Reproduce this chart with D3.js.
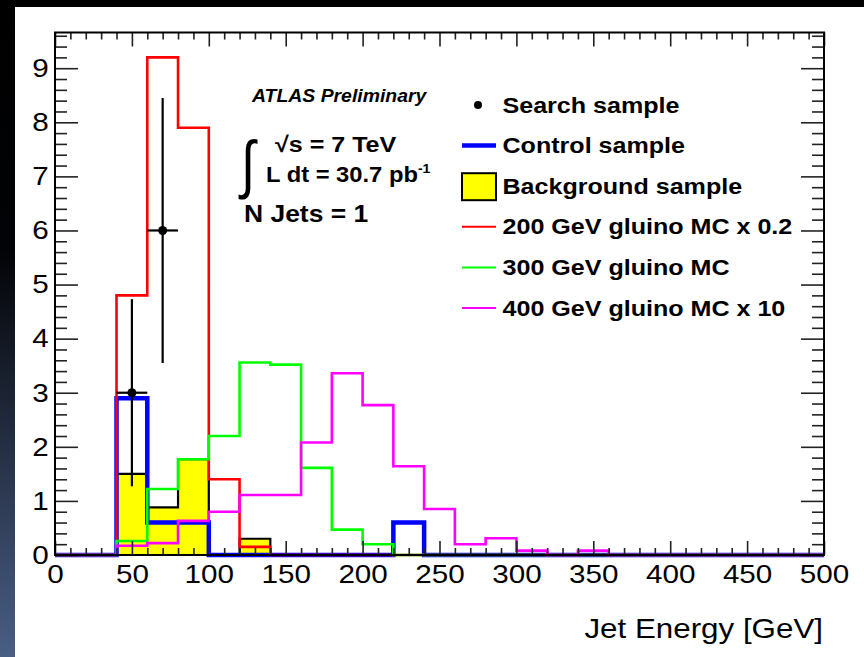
<!DOCTYPE html>
<html>
<head>
<meta charset="utf-8">
<script src="https://cdn.jsdelivr.net/npm/d3@7"></script>
<style>
  html, body { margin: 0; padding: 0; background: #fff; }
  svg { display: block; }
  text { font-family: "Liberation Sans", Arial, Helvetica, sans-serif; }
</style>
</head>
<body>
<svg id="chart" width="864" height="657"></svg>
<script>
// Jet energy histograms, 20 GeV bins from 0 to 500 GeV
const binWidth = 20;
const binLow = d3.range(0, 500, binWidth);

const controlSample    = [0, 0, 2.9, 0.6, 0.6, 0, 0, 0, 0, 0, 0, 0.6, 0, 0, 0, 0, 0, 0, 0, 0, 0, 0, 0, 0, 0];
const backgroundSample = [0, 0, 1.5, 0.88, 1.77, 0, 0.3, 0, 0, 0, 0, 0, 0, 0, 0, 0, 0, 0, 0, 0, 0, 0, 0, 0, 0];
const gluino200 = [0, 0, 4.8, 9.2, 7.9, 1.4, 0.15, 0, 0, 0, 0, 0, 0, 0, 0, 0, 0, 0, 0, 0, 0, 0, 0, 0, 0];
const gluino300 = [0, 0, 0.26, 1.22, 1.77, 2.2, 3.56, 3.52, 1.61, 0.47, 0.2, 0, 0, 0, 0, 0, 0, 0, 0, 0, 0, 0, 0, 0, 0];
const gluino400 = [0, 0, 0.17, 0.22, 0.63, 0.8, 1.11, 1.11, 2.08, 3.36, 2.77, 1.64, 0.85, 0.2, 0.31, 0.08, 0, 0.08, 0, 0, 0, 0, 0, 0, 0];

// Search sample: bin centres, counts and Poisson errors
const searchX = [50, 70];
const searchCounts = [3, 6];
const searchErrors = [1.73, 2.45];

const xMajorTicks = [0, 50, 100, 150, 200, 250, 300, 350, 400, 450, 500];
const yMajorTicks = [0, 1, 2, 3, 4, 5, 6, 7, 8, 9];

const legendItems = [
  { label: "Search sample", kind: "point" },
  { label: "Control sample", kind: "line", color: "#0000ff", width: 4.5 },
  { label: "Background sample", kind: "box" },
  { label: "200 GeV gluino MC x 0.2", kind: "line", color: "#ff0000", width: 2 },
  { label: "300 GeV gluino MC", kind: "line", color: "#00ff00", width: 2 },
  { label: "400 GeV gluino MC x 10", kind: "line", color: "#ff00ff", width: 2 }
];

const svg = d3.select("#chart");
const W = 864, H = 657;
const plot = { left: 55, right: 824, top: 32.5, bottom: 555 };
const SX = 1.14; // horizontal stretch of all lettering

// page background: white card, dark top band, gradient strip on the left
const defs = svg.append("defs");
const grad = defs.append("linearGradient").attr("id", "sideGrad")
  .attr("x1", 0).attr("y1", 0).attr("x2", 0).attr("y2", 1);
grad.append("stop").attr("offset", "0%").attr("stop-color", "#000000");
grad.append("stop").attr("offset", "38%").attr("stop-color", "#020306");
grad.append("stop").attr("offset", "100%").attr("stop-color", "#4a5e84");
svg.append("rect").attr("width", W).attr("height", H).attr("fill", "#ffffff");
svg.append("rect").attr("x", 0).attr("y", 0).attr("width", 15).attr("height", H).attr("fill", "url(#sideGrad)");
svg.append("rect").attr("x", 0).attr("y", 0).attr("width", W).attr("height", 7).attr("fill", "#000000");

const x = d3.scaleLinear().domain([0, 500]).range([plot.left, plot.right]);
const y = d3.scaleLinear().domain([0, 9.66]).range([plot.bottom, plot.top]);

// step outline of a histogram
function stepPoints(vals) {
  const pts = [];
  vals.forEach((v, i) => {
    pts.push([binLow[i], v]);
    pts.push([binLow[i] + binWidth, v]);
  });
  return pts;
}
const stepLine = d3.line().x(d => x(d[0])).y(d => y(d[1]));
const stepArea = d3.area().x(d => x(d[0])).y0(y(0)).y1(d => y(d[1]));

const g = svg.append("g");

// background sample: yellow fill with black outline
g.append("path").datum(stepPoints(backgroundSample))
  .attr("d", stepArea).attr("fill", "#ffff00").attr("stroke", "none");
g.append("path").datum(stepPoints(backgroundSample))
  .attr("d", stepLine).attr("fill", "none").attr("stroke", "#000").attr("stroke-width", 2.2);

function drawHist(vals, color, width) {
  g.append("path").datum(stepPoints(vals))
    .attr("d", stepLine).attr("fill", "none")
    .attr("stroke", color).attr("stroke-width", width)
    .attr("stroke-linejoin", "miter");
}
drawHist(controlSample, "#0000ff", 4.5);
drawHist(gluino200, "#ff0000", 2.6);
drawHist(gluino300, "#00ff00", 2.6);
drawHist(gluino400, "#ff00ff", 2.6);

// axes: major and minor ticks pointing into the frame
const tickColor = "#222";
function styleAxis(sel) {
  sel.select(".domain").remove();
  sel.selectAll(".tick line").attr("stroke", tickColor).attr("stroke-width", 1.6);
  sel.selectAll(".tick text").attr("fill", "#000").attr("font-size", 26)
    .attr("font-family", "'Liberation Sans', Arial, sans-serif")
    .attr("transform", `scale(${SX},1)`);
}
const xMinor = d3.range(0, 501, 10).filter(v => v % 50 !== 0);
const yMinor = d3.range(0, 9.61, 0.2).map(v => +v.toFixed(1)).filter(v => Math.abs(v - Math.round(v)) > 1e-6);

svg.append("g").attr("transform", `translate(0,${plot.bottom})`)
  .call(d3.axisBottom(x).tickValues(xMajorTicks).tickSizeInner(-14).tickSizeOuter(0).tickPadding(10).tickFormat(d3.format("d")))
  .call(styleAxis);
svg.append("g").attr("transform", `translate(0,${plot.bottom})`)
  .call(d3.axisBottom(x).tickValues(xMinor).tickSizeInner(-7).tickSizeOuter(0).tickFormat(""))
  .call(styleAxis);
svg.append("g").attr("transform", `translate(0,${plot.top})`)
  .call(d3.axisTop(x).tickValues(xMajorTicks).tickSizeInner(-14).tickSizeOuter(0).tickFormat(""))
  .call(styleAxis);
svg.append("g").attr("transform", `translate(0,${plot.top})`)
  .call(d3.axisTop(x).tickValues(xMinor).tickSizeInner(-7).tickSizeOuter(0).tickFormat(""))
  .call(styleAxis);

svg.append("g").attr("transform", `translate(${plot.left},0)`)
  .call(d3.axisLeft(y).tickValues(yMajorTicks).tickSizeInner(-23).tickSizeOuter(0).tickPadding(5.5).tickFormat(d3.format("d")))
  .call(styleAxis);
svg.append("g").attr("transform", `translate(${plot.left},0)`)
  .call(d3.axisLeft(y).tickValues(yMinor).tickSizeInner(-12).tickSizeOuter(0).tickFormat(""))
  .call(styleAxis);
svg.append("g").attr("transform", `translate(${plot.right},0)`)
  .call(d3.axisRight(y).tickValues(yMajorTicks).tickSizeInner(-23).tickSizeOuter(0).tickFormat(""))
  .call(styleAxis);
svg.append("g").attr("transform", `translate(${plot.right},0)`)
  .call(d3.axisRight(y).tickValues(yMinor).tickSizeInner(-12).tickSizeOuter(0).tickFormat(""))
  .call(styleAxis);

// frame
svg.append("rect")
  .attr("x", plot.left).attr("y", plot.top)
  .attr("width", plot.right - plot.left).attr("height", plot.bottom - plot.top)
  .attr("fill", "none").attr("stroke", "#000").attr("stroke-width", 2);

// search sample points with error bars
const pts = svg.append("g");
searchX.forEach((cx, i) => {
  const v = searchCounts[i], e = searchErrors[i];
  pts.append("line").attr("x1", x(cx)).attr("x2", x(cx))
    .attr("y1", y(v + e)).attr("y2", y(v - e))
    .attr("stroke", "#000").attr("stroke-width", 2.2);
  pts.append("line").attr("x1", x(cx - binWidth / 2)).attr("x2", x(cx + binWidth / 2))
    .attr("y1", y(v)).attr("y2", y(v))
    .attr("stroke", "#000").attr("stroke-width", 2.2);
  pts.append("circle").attr("cx", x(cx)).attr("cy", y(v)).attr("r", 4.5).attr("fill", "#000");
});

// text placed at (px, py) and stretched horizontally
function label(parent, px, py, sx) {
  return parent.append("text")
    .attr("transform", `translate(${px},${py}) scale(${sx},1)`)
    .attr("fill", "#000");
}

// x axis title
label(svg, 823, 638, SX).attr("text-anchor", "end").attr("font-size", 27.5)
  .text("Jet Energy [GeV]");

// annotations
const ann = svg.append("g");
label(ann, 252, 102, 1.11).attr("font-size", 17.5).attr("font-weight", "bold").attr("font-style", "italic")
  .text("ATLAS Preliminary");
label(ann, 241, 186, 0.8).attr("font-size", 64)
  .attr("font-family", "'Liberation Serif', serif")
  .text("\u222B");
label(ann, 275, 152, SX).attr("font-size", 22).attr("font-weight", "bold")
  .text("\u221As = 7 TeV");
const lum = label(ann, 266, 182, 1.08).attr("font-size", 22).attr("font-weight", "bold");
lum.append("tspan").text("L dt = 30.7 pb");
lum.append("tspan").attr("font-size", 13).attr("dy", -9).text("-1");
label(ann, 244, 222, 1.15).attr("font-size", 23).attr("font-weight", "bold")
  .text("N Jets = 1");

// legend
const leg = svg.append("g");
const legX = 502.5, legY0 = 112.5, legStep = 40.6;
legendItems.forEach((it, i) => {
  const by = legY0 + i * legStep;
  const cy = by - 7.5;
  if (it.kind === "point") {
    leg.append("circle").attr("cx", 478).attr("cy", cy).attr("r", 4).attr("fill", "#000");
  } else if (it.kind === "line") {
    leg.append("line").attr("x1", 462).attr("x2", 496).attr("y1", cy).attr("y2", cy)
      .attr("stroke", it.color).attr("stroke-width", it.width);
  } else {
    leg.append("rect").attr("x", 462).attr("y", cy - 13).attr("width", 34).attr("height", 27)
      .attr("fill", "#ffff00").attr("stroke", "#000").attr("stroke-width", 2);
  }
  label(leg, legX, by, SX).attr("font-size", 22).attr("font-weight", "bold")
    .text(it.label);
});
</script>
</body>
</html>
